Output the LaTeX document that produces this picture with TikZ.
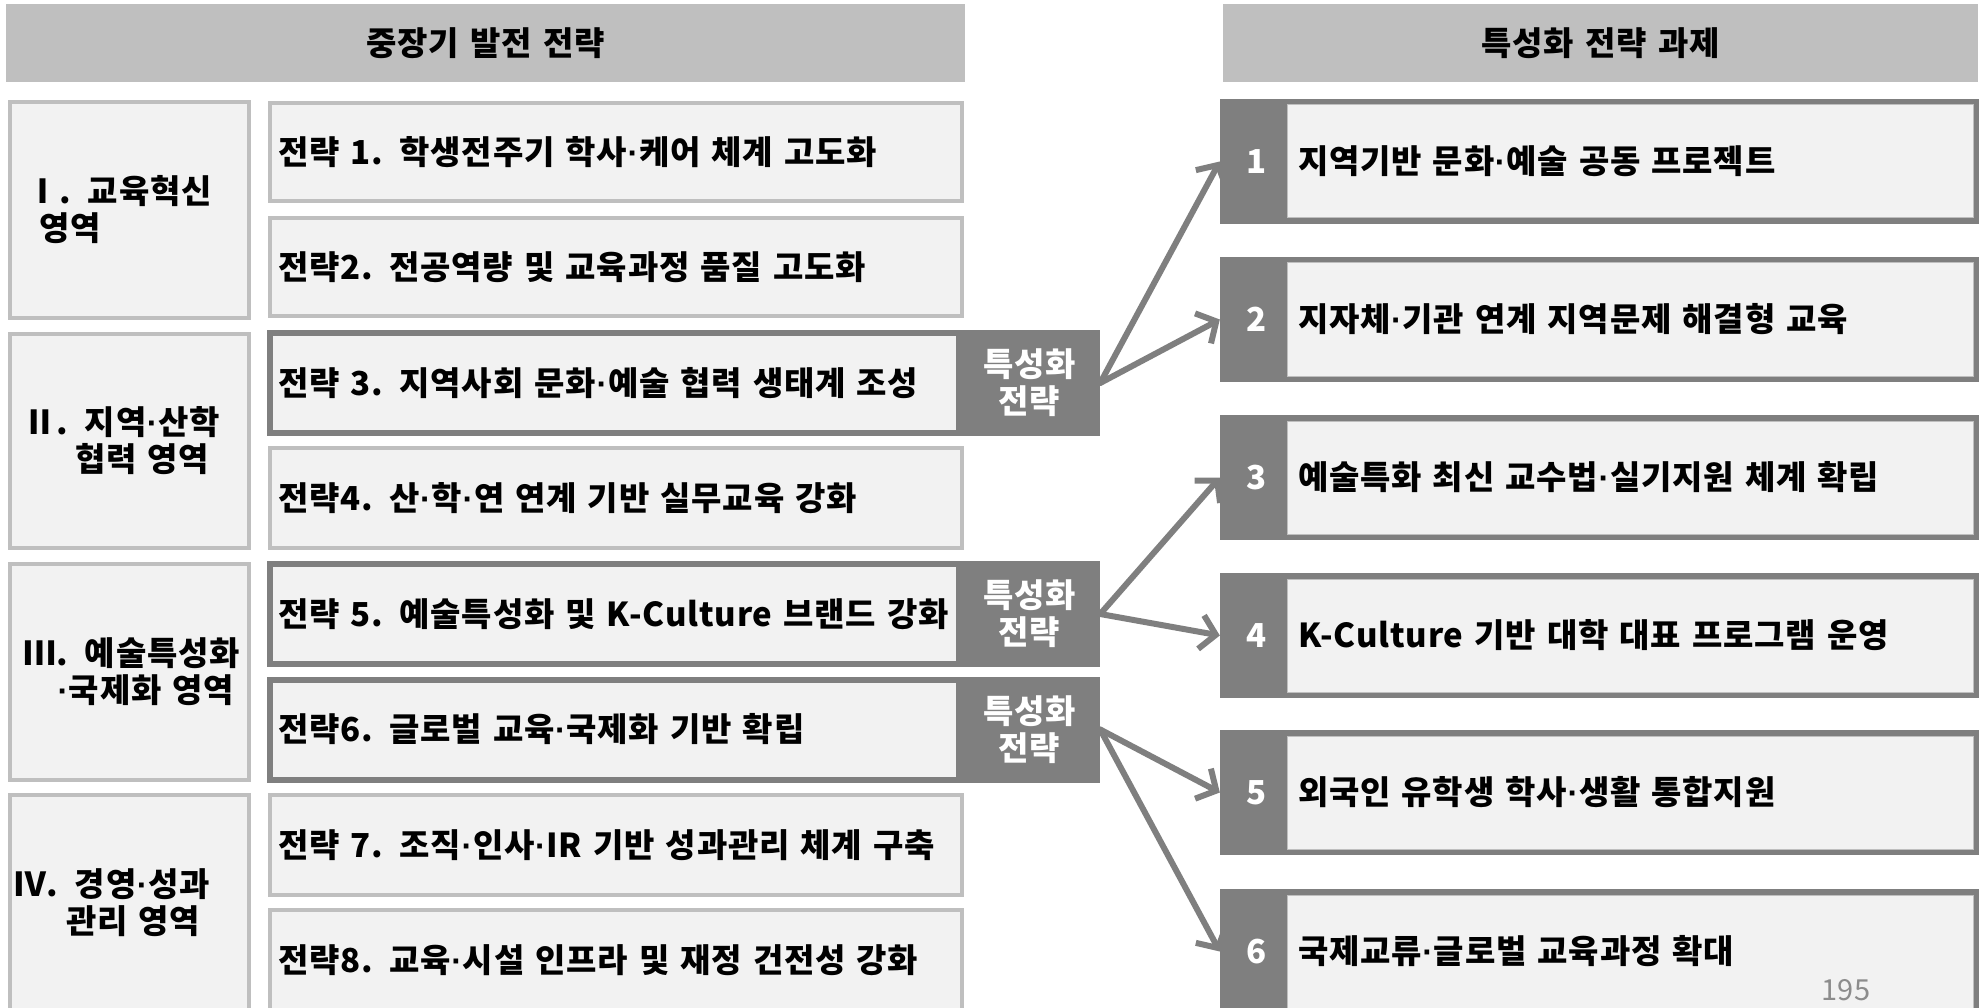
\documentclass[tikz,border=0pt]{standalone}
\usepackage{fontspec}
\setmainfont[WordSpace=1.35,LetterSpace=2.5]{Noto Sans CJK KR}
\newfontfamily\dotfont{Liberation Sans}
\newcommand\md{{\dotfont\bfseries\hspace{0.5pt}·\hspace{0.5pt}}}
\usetikzlibrary{arrows.meta}
\definecolor{hdrgray}{HTML}{BFBFBF}
\definecolor{lightfill}{HTML}{F2F2F2}
\definecolor{darkgray7}{HTML}{7F7F7F}
\definecolor{bordergray}{HTML}{BFBFBF}
\definecolor{pagegray}{HTML}{8C8C8C}
\newcommand\mainfont{\fontsize{33pt}{37pt}\selectfont\bfseries}
\tikzset{
  hdr/.style={fill=hdrgray, inner sep=0pt, font=\mainfont, minimum height=78pt},
  area/.style={draw=bordergray, line width=4pt, fill=lightfill, minimum width=239pt,
    text width=233pt, inner xsep=3pt, inner ysep=0pt, align=left, minimum height=216pt, font=\mainfont},
  sbox/.style={draw=bordergray, line width=4pt, fill=lightfill, minimum width=692pt,
    text width=676pt, inner xsep=8pt, inner ysep=0pt, align=left, minimum height=98pt, font=\mainfont},
  dbox/.style={draw=darkgray7, line width=6pt, fill=lightfill, minimum width=689pt,
    text width=673pt, inner xsep=8pt, inner ysep=0pt, align=left, minimum height=100pt, font=\mainfont},
  tag/.style={fill=darkgray7, text=white, minimum width=141pt, minimum height=106pt,
    inner sep=0pt, align=center, font=\mainfont},
  tout/.style={fill=darkgray7, minimum width=759pt, minimum height=125pt, inner sep=0pt},
  tin/.style={fill=lightfill, draw=bordergray, line width=1pt, minimum width=686pt,
    minimum height=113pt, text width=664pt, inner xsep=11pt, inner ysep=0pt, align=left, font=\mainfont},
  tnum/.style={text=white, font=\mainfont, inner sep=0pt},
  arr/.style={draw=darkgray7, line width=6pt, line cap=round, line join=round,
    -{Straight Barb[length=15pt,width=34pt]}},
}
\begin{document}
\begin{tikzpicture}[x=1pt,y=-1pt]
\useasboundingbox (0,0) rectangle (1985,1008);
% headers
\node[hdr, minimum width=959pt] (hl) at (485.5,43) {중장기 발전 전략};
\node[hdr, minimum width=755pt] (hr) at (1600.5,43) {특성화 전략 과제};
% areas
\node[area] (a1) at (129.5,210) {\hspace*{13pt}Ⅰ. 교육혁신\\\hspace*{26pt}영역};
\node[area, minimum height=214pt] (a2) at (129.5,441) {\hspace*{10pt}Ⅱ. 지역\md 산학\\\hspace*{62pt}협력 영역};
\node[area] (a3) at (129.5,672) {\hspace*{10pt}Ⅲ. 예술특성화\\\hspace*{44pt}\md 국제화 영역};
\node[area] (a4) at (129.5,903) {Ⅳ. 경영\md 성과\\\hspace*{53pt}관리 영역};
% strategies
\node[sbox] (s1) at (616,152) {전략 1. 학생전주기 학사\md 케어 체계 고도화};
\node[sbox] (s2) at (616,267) {전략2. 전공역량 및 교육과정 품질 고도화};
\node[dbox] (s3) at (614.5,383) {전략 3. 지역사회 문화\md 예술 협력 생태계 조성};
\node[sbox, minimum height=100pt] (s4) at (616,498) {전략4. 산\md 학\md 연 연계 기반 실무교육 강화};
\node[dbox] (s5) at (614.5,614) {전략 5. 예술특성화 및 K-Culture 브랜드 강화};
\node[dbox] (s6) at (614.5,729.5) {전략6. 글로벌 교육\md 국제화 기반 확립};
\node[sbox, minimum height=100pt] (s7) at (616,845) {전략 7. 조직\md 인사\md IR 기반 성과관리 체계 구축};
\node[sbox, minimum height=100pt] (s8) at (616,960) {전략8. 교육\md 시설 인프라 및 재정 건전성 강화};
% tags
\node[tag] (g1) at (1029.5,383) {특성화\\전략};
\node[tag] (g2) at (1029.5,614) {특성화\\전략};
\node[tag] (g3) at (1029.5,729.5) {특성화\\전략};
% tasks
\foreach \i/\y/\t in {1/161.5/지역기반 문화\md 예술 공동 프로젝트,
                      2/319.5/지자체\md 기관 연계 지역문제 해결형 교육,
                      3/477.5/예술특화 최신 교수법\md 실기지원 체계 확립,
                      4/635.5/K-Culture 기반 대학 대표 프로그램 운영,
                      5/792.5/외국인 유학생 학사\md 생활 통합지원,
                      6/951.5/국제교류\md 글로벌 교육과정 확대}{
  \node[tout] (t\i) at (1599.5,\y) {};
  \node[tin] (t\i i) at (1630,\y) {\t};
  \node[tnum] (n\i) at (1257,\y) {\i};
}
\node[text=pagegray, font=\fontsize{29pt}{32pt}\selectfont, inner sep=0pt] (pg) at (1846,990) {195};
% arrows
\draw[arr] (g1.east) -- (t1.west);
\draw[arr] (g1.east) -- (t2.west);
\draw[arr] (g2.east) -- (t3.west);
\draw[arr] (g2.east) -- (t4.west);
\draw[arr] (g3.east) -- (t5.west);
\draw[arr] (g3.east) -- (t6.west);
\end{tikzpicture}
\end{document}
